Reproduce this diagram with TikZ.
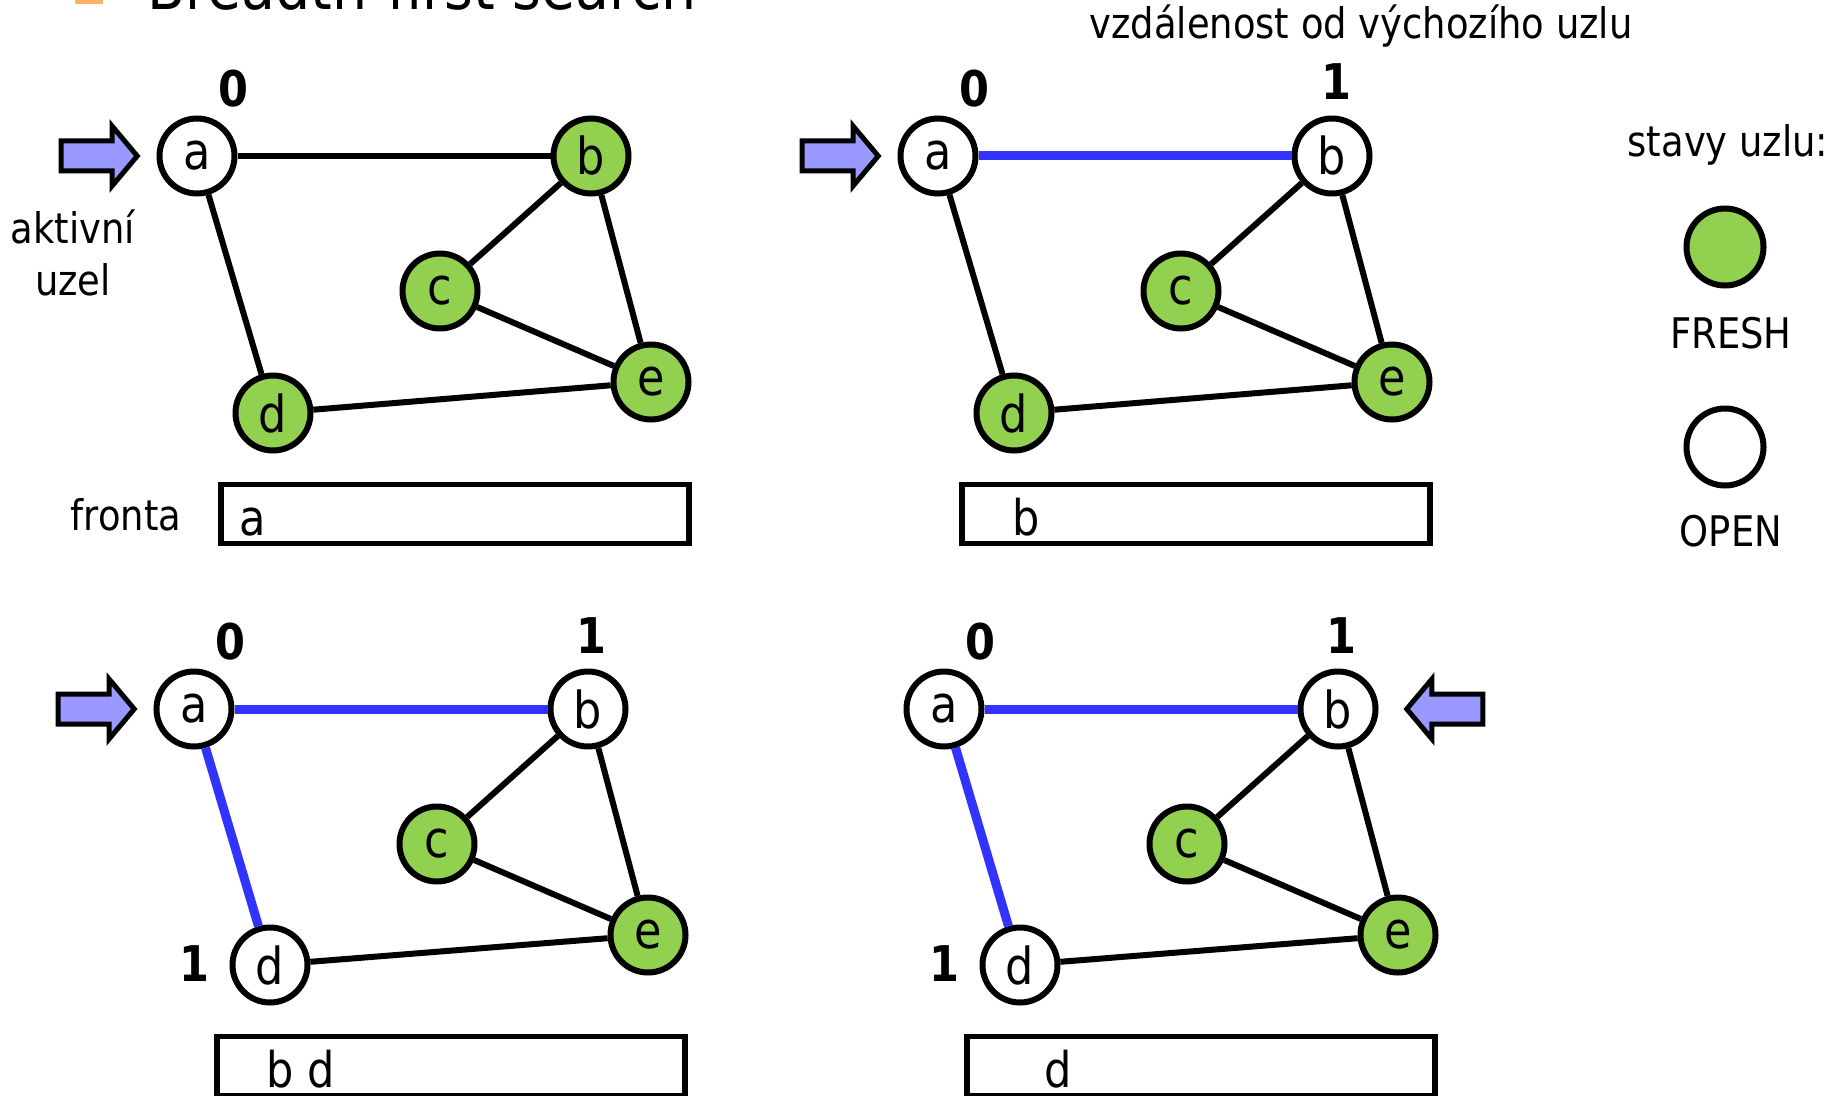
\documentclass[tikz,border=0pt]{standalone}
\usepackage{fontspec}
\setmainfont{DejaVu Sans}[FakeStretch=0.875]
\usepackage{tikz}
\usetikzlibrary{shapes.arrows, positioning}
\definecolor{freshgreen}{HTML}{92D050}
\definecolor{treeblue}{HTML}{3333FF}
\definecolor{actfill}{HTML}{9999FF}
\definecolor{bulletorange}{HTML}{FFB366}

\begin{document}
\begin{tikzpicture}[
    x=0.1mm, y=-0.1mm,
    vtx/.style      = {circle, draw, line width=0.6mm, minimum size=7.5mm,
                       inner sep=0pt, font=\fontsize{14.5}{16}\selectfont},
    freshvtx/.style = {vtx, fill=freshgreen},
    openvtx/.style  = {vtx, fill=white},
    link/.style     = {line width=0.6mm},
    tree/.style     = {line width=0.9mm, draw=treeblue},
    dist/.style     = {font=\bfseries\fontsize{14}{16}\selectfont, inner sep=0pt},
    lbl/.style      = {font=\fontsize{12}{14.8}\selectfont, align=center, inner sep=0pt},
    qbox/.style     = {draw, line width=0.55mm, minimum width=46.8mm,
                       minimum height=5.9mm, inner sep=0pt},
    qtxt/.style     = {font=\fontsize{14}{16}\selectfont, anchor=base west, inner sep=0pt},
    actarr/.style   = {single arrow, draw, fill=actfill, line width=0.5mm,
                       inner sep=0pt, inner ysep=1.25mm, minimum height=7.6mm,
                       single arrow head extend=1.5mm, single arrow tip angle=100}
  ]
  \useasboundingbox (0,0) rectangle (1843,1096);
  \clip (0,0) rectangle (1843,1096);

  %% title (cut off at the top)
  \fill[bulletorange] (75,-20) rectangle (103,4);
  \node[anchor=base west, inner sep=0pt, font=\fontsize{18}{20}\selectfont]
        (title) at (147,10) {Breadth-first search};
  \node[lbl] (vzd) at (1361,26) {vzdálenost od výchozího uzlu};

  %% step 1
  \begin{scope}[shift={(197,156)}]
    \node[openvtx]  (a1) at (0,0)     {a};
    \node[freshvtx] (b1) at (394,0)   {b};
    \node[freshvtx] (c1) at (243,135) {c};
    \node[freshvtx] (d1) at (76,257)  {d};
    \node[freshvtx] (e1) at (454,226) {e};
    \node[dist] (da1) at (36,-67) {0};
    \node[qbox] (q1) at (258,358) {};
  \end{scope}
  \draw[link] (a1) -- (b1);
  \draw[link] (a1) -- (d1);
  \draw[link] (b1) -- (c1);
  \draw[link] (b1) -- (e1);
  \draw[link] (c1) -- (e1);
  \draw[link] (d1) -- (e1);
  \node[qtxt] (qt1) at ([xshift=2.1mm, yshift=-2.1mm]q1.west) {a};
  \node[actarr, anchor=tip] (ar1) at ([xshift=-1.6mm]a1.west) {};
  \node[lbl] (akt) at (73,253) {aktivní\\uzel};
  \node[lbl] (fronta) at (126,515) {fronta};

  %% step 2
  \begin{scope}[shift={(938,156)}]
    \node[openvtx]  (a2) at (0,0)     {a};
    \node[openvtx]  (b2) at (394,0)   {b};
    \node[freshvtx] (c2) at (243,135) {c};
    \node[freshvtx] (d2) at (76,257)  {d};
    \node[freshvtx] (e2) at (454,226) {e};
    \node[dist] (da2) at (36,-67) {0};
    \node[dist] (db2) at (398,-74) {1};
    \node[qbox] (q2) at (258,358) {};
  \end{scope}
  \draw[tree] (a2) -- (b2);
  \draw[link] (a2) -- (d2);
  \draw[link] (b2) -- (c2);
  \draw[link] (b2) -- (e2);
  \draw[link] (c2) -- (e2);
  \draw[link] (d2) -- (e2);
  \node[qtxt] (qt2) at ([xshift=5.3mm, yshift=-2.1mm]q2.west) {b};
  \node[actarr, anchor=tip] (ar2) at ([xshift=-1.6mm]a2.west) {};

  %% step 3
  \begin{scope}[shift={(194,709)}]
    \node[openvtx]  (a3) at (0,0)     {a};
    \node[openvtx]  (b3) at (394,0)   {b};
    \node[freshvtx] (c3) at (243,135) {c};
    \node[openvtx]  (d3) at (76,256)  {d};
    \node[freshvtx] (e3) at (454,226) {e};
    \node[dist] (da3) at (36,-67) {0};
    \node[dist] (db3) at (397,-73) {1};
    \node[dist] (dd3) at (0,255) {1};
    \node[qbox] (q3) at (257,357) {};
  \end{scope}
  \draw[tree] (a3) -- (b3);
  \draw[tree] (a3) -- (d3);
  \draw[link] (b3) -- (c3);
  \draw[link] (b3) -- (e3);
  \draw[link] (c3) -- (e3);
  \draw[link] (d3) -- (e3);
  \node[qtxt] (qt3) at ([xshift=5.2mm, yshift=-2.1mm]q3.west) {b d};
  \node[actarr, anchor=tip] (ar3) at ([xshift=-1.6mm]a3.west) {};

  %% step 4
  \begin{scope}[shift={(944,709)}]
    \node[openvtx]  (a4) at (0,0)     {a};
    \node[openvtx]  (b4) at (394,0)   {b};
    \node[freshvtx] (c4) at (243,135) {c};
    \node[openvtx]  (d4) at (76,256)  {d};
    \node[freshvtx] (e4) at (454,226) {e};
    \node[dist] (da4) at (36,-67) {0};
    \node[dist] (db4) at (397,-73) {1};
    \node[dist] (dd4) at (0,255) {1};
    \node[qbox] (q4) at (257,357) {};
  \end{scope}
  \draw[tree] (a4) -- (b4);
  \draw[tree] (a4) -- (d4);
  \draw[link] (b4) -- (c4);
  \draw[link] (b4) -- (e4);
  \draw[link] (c4) -- (e4);
  \draw[link] (d4) -- (e4);
  \node[qtxt] (qt4) at ([xshift=8.0mm, yshift=-2.1mm]q4.west) {d};
  \node[actarr, anchor=tip, shape border rotate=180] (ar4)
        at ([xshift=2.5mm]b4.east) {};

  %% legend
  \node[lbl] (stavy) at (1728,145) {stavy uzlu:};
  \node[freshvtx, minimum size=7.7mm] (lfresh) at (1725,247) {};
  \node[lbl] (tfresh) at (1731,333) {FRESH};
  \node[openvtx, minimum size=7.7mm] (lopen) at (1725,447) {};
  \node[lbl] (topen) at (1731,531) {OPEN};

\end{tikzpicture}
\end{document}
